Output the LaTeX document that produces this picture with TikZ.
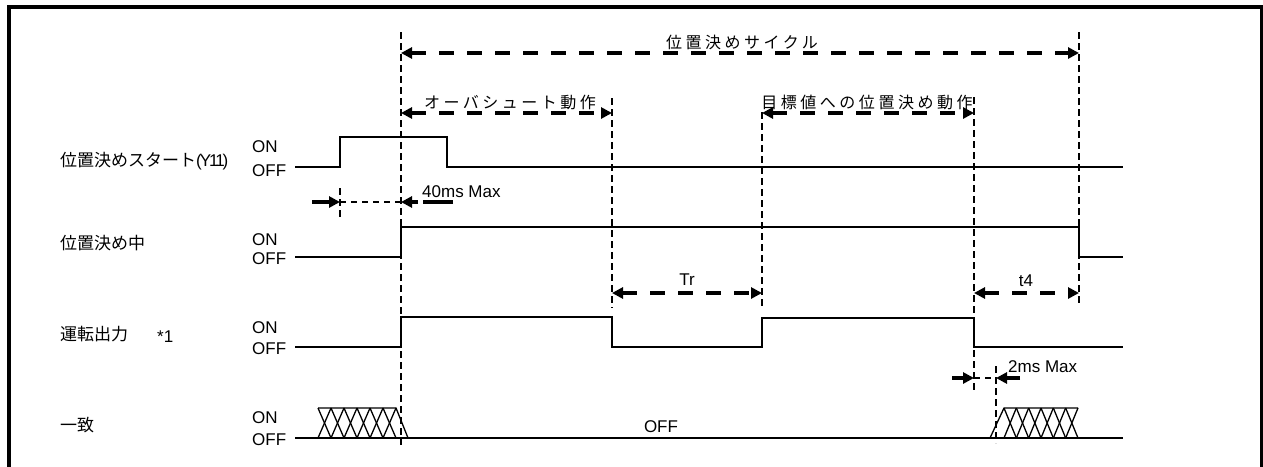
\documentclass[tikz,border=0pt]{standalone}
\usepackage{fontspec}
\setmainfont{Liberation Sans}
\newfontfamily\jpl{Noto Sans CJK JP}
\newfontfamily\jpt{Noto Sans CJK JP}[LetterSpace=22]
\newfontfamily\lat{Liberation Sans}
\newfontfamily\latn{Liberation Sans}[LetterSpace=-12]
\usetikzlibrary{arrows.meta}
\begin{document}
\begin{tikzpicture}[x=1pt,y=-1pt,
  sig/.style={line width=2pt, line join=miter},
  vguide/.style={line width=1.3pt, dash pattern=on 7pt off 4pt},
  hguide/.style={line width=1.3pt, dash pattern=on 6pt off 5pt},
  dimarrow/.style={line width=4pt, dash pattern=on 15pt off 13pt, {Triangle[length=11pt,width=11pt]}-{Triangle[length=11pt,width=11pt]}},
  oneside/.style={line width=4pt, -{Triangle[length=11pt,width=11pt]}},
  hatch/.style={line width=1.3pt},
  frame/.style={line width=4pt},
  lbl/.style={anchor=west, inner sep=0pt, font=\fontsize{17pt}{19pt}\selectfont\jpl},
  onoff/.style={anchor=west, inner sep=0pt, font=\fontsize{17pt}{19pt}\selectfont\lat},
  toplbl/.style={inner sep=0pt, font=\fontsize{16pt}{18pt}\selectfont\jpt},
  small/.style={inner sep=0pt, font=\fontsize{17pt}{19pt}\selectfont\lat},
]
\useasboundingbox (0,0) rectangle (1263,466);
\fill[white] (0,0) rectangle (1263,466);
\clip (0,0) rectangle (1263,466);

% frame
\draw[frame] (8.7,480) -- (8.7,7) -- (1262,7) -- (1262,480);

% guide coordinates
\coordinate (g0t) at (401,32);   \coordinate (g0b) at (401,445);
\coordinate (g1t) at (612,98);   \coordinate (g1b) at (612,308);
\coordinate (g2t) at (762,112);  \coordinate (g2b) at (762,308);
\coordinate (g3t) at (974,97);   \coordinate (g3b) at (974,392);
\coordinate (g4t) at (1079,32);  \coordinate (g4b) at (1079,305);
\coordinate (g5t) at (340,188);  \coordinate (g5b) at (340,217);
\coordinate (g6t) at (996,366);  \coordinate (g6b) at (996,443);

\draw[vguide] (g0t) -- (g0b);
\draw[vguide] (g1t) -- (g1b);
\draw[vguide] (g2t) -- (g2b);
\draw[vguide] (g3t) -- (g3b);
\draw[vguide] (g4t) -- (g4b);
\draw[vguide] (g5t) -- (g5b);
\draw[vguide] (g6t) -- (g6b);

% signals
\draw[sig] (295,167) -- (340,167) -- (340,137) -- (447,137) -- (447,167) -- (1123,167);
\draw[sig] (295,257) -- (401,257) -- (401,227) -- (1079,227) -- (1079,257) -- (1123,257);
\draw[sig] (295,347) -- (401,347) -- (401,317) -- (612,317) -- (612,347) -- (762,347) -- (762,318) -- (974,318) -- (974,347) -- (1123,347);
\draw[sig] (295,438) -- (1123,438);

% hatched regions
\draw[hatch] (318,408) -- (396,408) -- (408,438);
\foreach \k in {0,...,5}{
  \draw[hatch] ({318+13*\k},408) -- ({331+13*\k},438);
  \draw[hatch] ({318+13*\k},438) -- ({331+13*\k},408);
}
\draw[hatch] (990,438) -- (1004,408) -- (1078,408);
\foreach \k in {0,...,5}{
  \draw[hatch] ({1004+12.33*\k},408) -- ({1016.33+12.33*\k},438);
  \draw[hatch] ({1004+12.33*\k},438) -- ({1016.33+12.33*\k},408);
}

% dimension arrows
\coordinate (c0) at (401,53);  \coordinate (c1) at (1079,53);
\draw[dimarrow] (c0) -- (c1);
\coordinate (o0) at (401,113); \coordinate (o1) at (612,113);
\draw[dimarrow] (o0) -- (o1);
\coordinate (p0) at (762,113); \coordinate (p1) at (974,113);
\draw[dimarrow] (p0) -- (p1);
\coordinate (r0) at (612,293); \coordinate (r1) at (762,293);
\draw[dimarrow] (r0) -- (r1);
\coordinate (s0) at (974,293); \coordinate (s1) at (1079,293);
\draw[dimarrow] (s0) -- (s1);

% 40ms
\coordinate (a40s) at (312,202); \coordinate (a40t) at (340,202);
\coordinate (b40s) at (453,202); \coordinate (b40t) at (401,202);
\draw[oneside] (a40s) -- (a40t);
\draw[hguide] (a40t) -- (b40t);
\draw[oneside, dash pattern=on 30pt off 5pt] (b40s) -- (b40t);

% 2ms
\coordinate (a2s) at (952,378); \coordinate (a2t) at (974,378);
\coordinate (b2s) at (1020,378); \coordinate (b2t) at (996,378);
\draw[oneside] (a2s) -- (a2t);
\draw[hguide] (a2t) -- (b2t);
\draw[oneside] (b2s) -- (b2t);

% left labels
\node[lbl] (l1) at (60,161) {位置決めスタート{\latn(Y11)}};
\node[lbl] (l2) at (60,243) {位置決め中};
\node[lbl] (l3) at (60,334) {運転出力};
\node[onoff] (l3b) at (157,337) {*1};
\node[lbl] (l4) at (60,425) {一致};

% ON / OFF
\node[onoff] (on1) at (252,147) {ON};
\node[onoff] (of1) at (252,171) {OFF};
\node[onoff] (on2) at (252,240) {ON};
\node[onoff] (of2) at (252,259) {OFF};
\node[onoff] (on3) at (252,327.5) {ON};
\node[onoff] (of3) at (252,349) {OFF};
\node[onoff] (on4) at (252,417.5) {ON};
\node[onoff] (of4) at (252,440) {OFF};

% top labels
\node[toplbl] (t1) at (742,42) {位置決めサイクル};
\node[toplbl] (t2) at (510,102) {オーバシュート動作};
\node[toplbl] (t3) at (867,102) {目標値への位置決め動作};

% small labels
\node[onoff] (m40) at (422,192) {40ms Max};
\node[onoff] (m2) at (1008,367) {2ms Max};
\node[small] (tr) at (687,280) {Tr};
\node[small] (t4) at (1026,281) {t4};
\node[small] (off) at (661,427) {OFF};
\end{tikzpicture}
\end{document}
